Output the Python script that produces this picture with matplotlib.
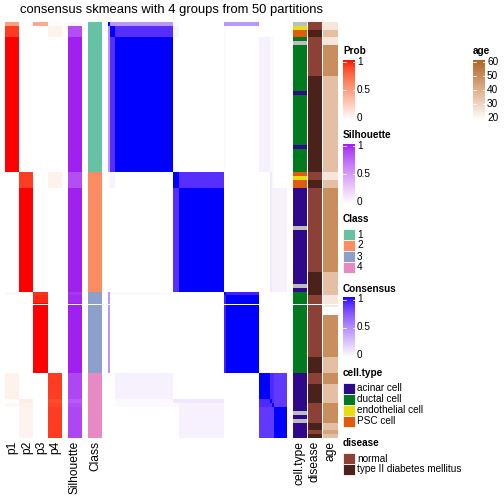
import numpy as np
import matplotlib
matplotlib.use('Agg')
import matplotlib.pyplot as plt
from matplotlib.colors import ListedColormap, to_rgb

plt.rcParams['font.family'] = ['Liberation Sans', 'DejaVu Sans']

# ------------------------------------------------------------------ data
title = "consensus skmeans with 4 groups from 50 partitions"

# groups of samples (in heatmap row order)
group_names = ['A0', 'A1', 'A2', 'B1', 'B2', 'C1', 'C2', 'C3', 'D1', 'D2', 'D3', 'D4']
group_sizes = [1, 3, 35, 4, 27, 1, 2, 18, 7, 1, 1, 8]
group_class = [1, 1, 1, 2, 2, 3, 3, 3, 4, 4, 4, 4]
prob_p1 = [0.50, 0.90, 1.00, 0.00, 0.00, 0.03, 0.00, 0.00, 0.07, 0.00, 0.04, 0.00]
prob_p2 = [0.00, 0.00, 0.00, 0.90, 1.00, 0.00, 0.00, 0.00, 0.00, 0.10, 0.07, 0.06]
prob_p3 = [0.45, 0.00, 0.00, 0.00, 0.00, 0.93, 0.95, 1.00, 0.00, 0.00, 0.00, 0.00]
prob_p4 = [0.02, 0.07, 0.00, 0.07, 0.00, 0.00, 0.00, 0.00, 0.90, 0.85, 0.88, 0.90]
silhouette = [0.05, 0.85, 1.00, 0.85, 1.00, 0.93, 0.97, 1.00, 0.88, 0.80, 0.85, 0.88]

# consensus between groups (rows/cols follow group_names)
consensus_groups = [
    [1.00, 0.45, 0.45, 0.03, 0.00, 0.45, 0.45, 0.45, 0.00, 0.00, 0.00, 0.00],
    [0.45, 1.00, 0.88, 0.05, 0.00, 0.02, 0.00, 0.00, 0.00, 0.00, 0.00, 0.00],
    [0.45, 0.88, 1.00, 0.00, 0.00, 0.02, 0.00, 0.00, 0.06, 0.03, 0.03, 0.00],
    [0.03, 0.05, 0.00, 1.00, 0.88, 0.00, 0.00, 0.00, 0.00, 0.10, 0.03, 0.00],
    [0.00, 0.00, 0.00, 0.88, 1.00, 0.00, 0.00, 0.00, 0.00, 0.10, 0.06, 0.06],
    [0.45, 0.02, 0.02, 0.00, 0.00, 1.00, 0.93, 0.93, 0.00, 0.00, 0.00, 0.00],
    [0.45, 0.00, 0.00, 0.00, 0.00, 0.93, 1.00, 1.00, 0.00, 0.00, 0.00, 0.00],
    [0.45, 0.00, 0.00, 0.00, 0.00, 0.93, 1.00, 1.00, 0.00, 0.00, 0.00, 0.00],
    [0.00, 0.00, 0.06, 0.00, 0.00, 0.00, 0.00, 0.00, 1.00, 0.90, 0.90, 0.85],
    [0.00, 0.00, 0.03, 0.10, 0.10, 0.00, 0.00, 0.00, 0.90, 1.00, 0.88, 0.85],
    [0.00, 0.00, 0.03, 0.03, 0.06, 0.00, 0.00, 0.00, 0.90, 0.88, 1.00, 0.85],
    [0.00, 0.00, 0.00, 0.00, 0.06, 0.00, 0.00, 0.00, 0.85, 0.85, 0.85, 1.00],
]

# per-sample annotations as runs (value, count)
cell_type_runs = [('NA', 1), ('endothelial cell', 1), ('PSC cell', 2), ('ductal cell', 1),
                  ('NA', 1), ('ductal cell', 12), ('acinar cell', 1), ('ductal cell', 13),
                  ('acinar cell', 1), ('ductal cell', 6), ('PSC cell', 1),
                  ('endothelial cell', 1), ('PSC cell', 2), ('acinar cell', 10), ('NA', 1),
                  ('acinar cell', 14), ('NA', 1), ('acinar cell', 1), ('ductal cell', 21),
                  ('acinar cell', 10), ('NA', 1), ('acinar cell', 1), ('NA', 1),
                  ('acinar cell', 4)]
disease_runs = [('normal', 2), ('T2D', 2), ('normal', 10), ('T2D', 25), ('normal', 2),
                ('T2D', 2), ('normal', 22), ('T2D', 6), ('normal', 16), ('T2D', 4),
                ('normal', 3), ('T2D', 5), ('normal', 5), ('T2D', 2), ('normal', 1),
                ('T2D', 1)]
age_runs = [(26, 2), (36, 2), (26, 2), (49, 8), (36, 25), (26, 2), (36, 2), (49, 22),
            (36, 6), (26, 3), (20, 2), (49, 11), (36, 4), (49, 3), (36, 5), (49, 5),
            (36, 2), (43, 1), (36, 1)]
gap_after_row = 73

class_labels = ['1', '2', '3', '4']
class_colors = ['#66C2A5', '#FC8D62', '#8DA0CB', '#E78AC3']
cell_types = ['acinar cell', 'ductal cell', 'endothelial cell', 'PSC cell']
cell_colors = ['#2E0A8A', '#00791F', '#E6DD12', '#E05C0C']
na_color = '#BEBEBE'
disease_labels = ['normal', 'type II diabetes mellitus']
disease_colors = ['#8B4135', '#4A2219']
age_breaks = [20, 30, 40, 50, 60]
prob_breaks = [0, 0.5, 1]

# ------------------------------------------------------------------ colour helpers (LAB interpolation)
def _lin(c):
    c = np.asarray(c, float)
    return np.where(c <= 0.04045, c / 12.92, ((c + 0.055) / 1.055) ** 2.4)

def _gam(c):
    c = np.clip(c, 0, 1)
    return np.where(c <= 0.0031308, 12.92 * c, 1.055 * c ** (1 / 2.4) - 0.055)

_M = np.array([[0.4124, 0.3576, 0.1805], [0.2126, 0.7152, 0.0722], [0.0193, 0.1192, 0.9505]])
_Mi = np.linalg.inv(_M)
_W = np.array([0.95047, 1.0, 1.08883])
_d = 6 / 29

def to_lab(rgb):
    xyz = _M @ _lin(rgb) / _W
    f = np.where(xyz > _d ** 3, np.cbrt(xyz), xyz / (3 * _d ** 2) + 4 / 29)
    return np.array([116 * f[1] - 16, 500 * (f[0] - f[1]), 200 * (f[1] - f[2])])

def from_lab(lab):
    fy = (lab[0] + 16) / 116
    f = np.array([fy + lab[1] / 500, fy, fy - lab[2] / 200])
    xyz = np.where(f > _d, f ** 3, 3 * _d ** 2 * (f - 4 / 29)) * _W
    return _gam(_Mi @ xyz)

def lab_cmap(c0, c1, n=256):
    l0, l1 = to_lab(to_rgb(c0)), to_lab(to_rgb(c1))
    cols = [from_lab(l0 + (l1 - l0) * t) for t in np.linspace(0, 1, n)]
    cols[-1] = to_rgb(c1)
    cols[0] = to_rgb(c0)
    return ListedColormap(cols)

cm_prob = lab_cmap('#FFFFFF', '#FF0000')
cm_sil = lab_cmap('#FFFFFF', '#A020F0')
cm_cons = lab_cmap('#FFFFFF', '#0000FF')
cm_age = lab_cmap('#FFFFFF', '#AE6622')

# ------------------------------------------------------------------ expand data
idx = np.repeat(np.arange(len(group_names)), group_sizes)
n = len(idx)
P = np.array([prob_p1, prob_p2, prob_p3, prob_p4]).T[idx]
sil = np.array(silhouette)[idx]
cls = np.array(group_class)[idx]
C = np.array(consensus_groups)[idx][:, idx]
np.fill_diagonal(C, 1.0)

def expand(runs):
    out = []
    for v, k in runs:
        out += [v] * k
    return out

ct = expand(cell_type_runs)
dis = expand(disease_runs)
age = np.array(expand(age_runs), float)

ct_rgb = np.array([[to_rgb(cell_colors[cell_types.index(v)] if v in cell_types else na_color)] for v in ct])
dis_rgb = np.array([[to_rgb(disease_colors[0] if v == 'normal' else disease_colors[1])] for v in dis])
cls_rgb = np.array([[to_rgb(class_colors[c - 1])] for c in cls])

# ------------------------------------------------------------------ figure
fig = plt.figure(figsize=(7, 7), dpi=72)
ax = fig.add_axes([0, 0, 1, 1])
ax.set_xlim(0, 504)
ax.set_ylim(504, 0)
ax.axis('off')

TOP, BOT = 23.0, 438.5
u = (BOT - TOP) / n

def block(data, x0, x1, **kw):
    ax.imshow(data, extent=(x0, x1, BOT, TOP), aspect='auto', interpolation='nearest',
              interpolation_stage='rgba', **kw)

block(P, 5, 62, cmap=cm_prob, vmin=0, vmax=1)
block(sil[:, None], 68, 82, cmap=cm_sil, vmin=0, vmax=1)
block(cls_rgb, 88, 102)
block(C, 108, 287, cmap=cm_cons, vmin=0, vmax=1)
block(ct_rgb, 293, 307)
block(dis_rgb, 308, 322)
block(age[:, None], 323, 338, cmap=cm_age, vmin=20, vmax=60)
ax.hlines(TOP + gap_after_row * u, 5, 338, color='white', lw=1.0)

ax.text(171.5, 10, title, fontsize=13, ha='center', va='center')

for lab, xc in [('p1', 12.5), ('p2', 27), ('p3', 41), ('p4', 55), ('Silhouette', 75),
                ('Class', 95), ('cell.type', 300), ('disease', 315), ('age', 330.5)]:
    ax.text(xc, 441, lab, fontsize=12, rotation=90, ha='center', va='top')

# ------------------------------------------------------------------ legends
def cbar_legend(x, y, title_txt, cmap, breaks, labels, vmin, vmax):
    ax.text(x, y, title_txt, fontsize=10, fontweight='bold', ha='left', va='center')
    y0, y1 = y + 9, y + 69
    grad = np.linspace(vmax, vmin, 256)[:, None]
    ax.imshow(grad, extent=(x, x + 12, y1, y0), aspect='auto', cmap=cmap, vmin=vmin, vmax=vmax)
    for b, lab in zip(breaks, labels):
        yy = y0 + 2 + (vmax - b) / (vmax - vmin) * (y1 - y0 - 4)
        ax.plot([x, x + 2.5], [yy, yy], color='white', lw=0.8)
        ax.plot([x + 9.5, x + 12], [yy, yy], color='white', lw=0.8)
        ax.text(x + 14, yy, lab, fontsize=10, ha='left', va='center')

def key_legend(x, y, title_txt, labels, colors):
    ax.text(x, y, title_txt, fontsize=10, fontweight='bold', ha='left', va='center')
    for i, (lab, c) in enumerate(zip(labels, colors)):
        yy = y + 10 + i * 11
        ax.add_patch(plt.Rectangle((x, yy), 12, 11, facecolor=c, edgecolor='white', lw=0.8))
        ax.text(x + 14, yy + 5.5, lab, fontsize=10, ha='left', va='center')

cbar_legend(343, 51, 'Prob', cm_prob, prob_breaks, ['0', '0.5', '1'], 0, 1)
cbar_legend(343, 135, 'Silhouette', cm_sil, prob_breaks, ['0', '0.5', '1'], 0, 1)
key_legend(343, 219, 'Class', class_labels, class_colors)
cbar_legend(343, 288.5, 'Consensus', cm_cons, prob_breaks, ['0', '0.5', '1'], 0, 1)
key_legend(343, 372.5, 'cell.type', cell_types, cell_colors)
key_legend(343, 443, 'disease', disease_labels, disease_colors)
cbar_legend(473, 51, 'age', cm_age, age_breaks, [str(a) for a in age_breaks], 20, 60)

fig.savefig('out.png', dpi=72)
